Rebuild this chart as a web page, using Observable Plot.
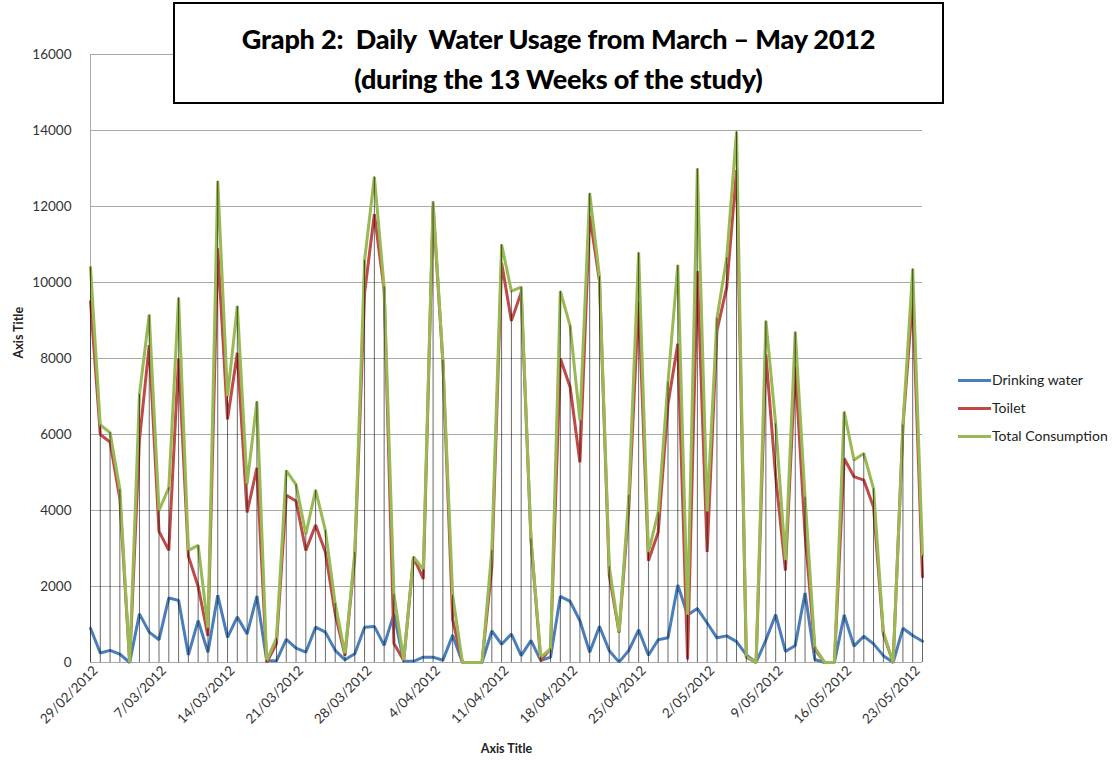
<!DOCTYPE html>
<html>
<head>
<meta charset="utf-8">
<script src="https://cdn.jsdelivr.net/npm/d3@7"></script>
<script src="https://cdn.jsdelivr.net/npm/@observablehq/plot@0.6"></script>
<style>
  body { margin: 0; background: #fff; }
  #wrap { position: relative; width: 1114px; height: 763px; overflow: hidden; font-family: Lato, "Open Sans", sans-serif; }
  #chart { position: absolute; left: 0; top: 0; }
  #title { position: absolute; left: 173px; top: 2px; width: 767px; height: 98px; border: 2px solid #000; background: #fff;
           text-align: center; font-weight: 900; font-size: 27px; color: #000; box-sizing: content-box; letter-spacing: -0.2px; }
  #title div { position: absolute; left: 0; right: 0; }
  #legend { position: absolute; left: 958px; top: 371px; font-size: 14px; color: #222; }
  .li { position: relative; height: 28px; line-height: 18px; white-space: nowrap; }
  .sw { display: inline-block; width: 33px; height: 3px; vertical-align: middle; margin-right: 1px; position: relative; top: -1px; }
</style>
</head>
<body>
<div id="wrap">
  <div id="chart"></div>
  <div id="title">
    <div style="top:18px">Graph 2:&nbsp; Daily&nbsp; Water Usage from March – May 2012</div>
    <div style="top:58px">(during the 13 Weeks of the study)</div>
  </div>
  <div id="legend"></div>
</div>
<script>
// ---- data ----
const startDate = "29/02/2012";
const drinking = [900,250,320,220,0,1280,800,600,1700,1630,200,1100,270,1770,660,1200,750,1750,50,40,
  610,380,270,930,800,320,70,230,930,950,450,1280,30,30,140,140,60,720,0,0,
  0,830,480,750,180,580,50,140,1740,1610,1100,270,950,310,10,320,860,190,600,650,
  2040,1250,1420,1040,650,700,550,200,0,590,1260,290,450,1830,80,0,0,1250,430,690,
  490,180,0,900,710,560];
const toilet = [9500,6000,5800,4300,0,5850,8350,3450,2950,8000,2800,2000,700,10900,6400,8150,3950,5120,0,500,
  4400,4250,2950,3620,2900,1280,180,2770,9720,11800,9800,500,50,2770,2200,12000,7900,1130,0,0,
  0,2520,10520,8990,9740,3220,50,360,8000,7250,5270,11760,10040,2300,790,4090,9500,2680,3430,6800,
  8390,80,10300,2910,8730,9880,12960,140,0,8110,4890,2420,7790,3380,350,0,0,5370,4890,4800,
  4090,750,0,6200,9610,2250];
const totalConsumption = [10400,6250,6050,4550,0,7050,9150,4000,4600,9600,2950,3080,900,12670,7000,9380,4700,6870,50,640,
  5050,4680,3380,4540,3470,1550,230,2900,10580,12780,9880,1800,50,2780,2450,12130,7950,1770,0,0,
  0,2950,11000,9770,9880,3250,140,360,9770,8860,6370,12350,10150,2520,800,4400,10790,2900,3950,7380,
  10460,1250,13000,3970,9060,10650,13970,160,0,8990,6280,2690,8700,4350,400,0,0,6600,5330,5500,
  4570,800,0,6250,10360,2820];
const tickLabels = ["29/02/2012","7/03/2012","14/03/2012","21/03/2012","28/03/2012","4/04/2012","11/04/2012",
  "18/04/2012","25/04/2012","2/05/2012","9/05/2012","16/05/2012","23/05/2012"];
const yTicks = [0,2000,4000,6000,8000,10000,12000,14000,16000];
const seriesNames = ["Drinking water","Toilet","Total Consumption"];
const seriesColors = ["#4a7ebb","#be4b48","#98b954"];

// ---- build ----
const parse = d3.utcParse("%d/%m/%Y");
const t0 = parse(startDate);
const rows = totalConsumption.map((v, i) => ({
  date: d3.utcDay.offset(t0, i),
  drinking: drinking[i], toilet: toilet[i], total: v
}));
const tickDates = tickLabels.map(parse);
const labelOf = new Map(tickDates.map((d, i) => [+d, tickLabels[i]]));
const lastDate = rows[rows.length - 1].date;

const font = "Lato, 'Open Sans', sans-serif";
const chart = Plot.plot({
  width: 1114,
  height: 763,
  marginLeft: 90,
  marginRight: 192,
  marginTop: 54,
  marginBottom: 101,
  style: { fontFamily: font, fontSize: "13.5px", color: "#333", background: "transparent" },
  x: { type: "utc", domain: [t0, lastDate] },
  y: { domain: [0, 16000] },
  marks: [
    Plot.gridY(yTicks, { stroke: "#a8a8a8", strokeOpacity: 1, strokeWidth: 1 }),
    Plot.ruleX([t0], { stroke: "#a8a8a8", strokeWidth: 1 }),
    Plot.ruleY([0], { stroke: "#a8a8a8", strokeWidth: 1.2 }),
    Plot.axisY({ ticks: yTicks, tickFormat: d => String(d), tickSize: 0, tickPadding: 19, label: null, fontSize: 13.5 }),
    Plot.axisX({ ticks: tickDates, tickFormat: d => labelOf.get(+d), tickRotate: -45, tickSize: 0,
                 label: null, fontSize: 13.5, tickPadding: 6, dx: 5 }),
    Plot.lineY(rows, { x: "date", y: "drinking", stroke: seriesColors[0], strokeWidth: 3, strokeLinejoin: "miter" }),
    Plot.lineY(rows, { x: "date", y: "toilet", stroke: seriesColors[1], strokeWidth: 3, strokeLinejoin: "miter" }),
    Plot.lineY(rows, { x: "date", y: "total", stroke: seriesColors[2], strokeWidth: 3, strokeLinejoin: "miter" }),
    Plot.ruleX(rows, { x: "date", y1: 0, y2: "total", stroke: "#000", strokeWidth: 0.8, strokeOpacity: 0.75 }),
    Plot.text(["Axis Title"], { frameAnchor: "left", dx: -72, rotate: -90, fontWeight: "bold", fontSize: 12.5, fill: "#222" }),
    Plot.text(["Axis Title"], { frameAnchor: "bottom", dy: 90, fontWeight: "bold", fontSize: 12.5, fill: "#222" })
  ]
});
document.getElementById("chart").appendChild(chart);

const legend = document.getElementById("legend");
seriesNames.forEach((name, i) => {
  const row = document.createElement("div");
  row.className = "li";
  const sw = document.createElement("span");
  sw.className = "sw";
  sw.style.background = seriesColors[i];
  row.appendChild(sw);
  row.appendChild(document.createTextNode(name));
  legend.appendChild(row);
});
</script>
</body>
</html>
